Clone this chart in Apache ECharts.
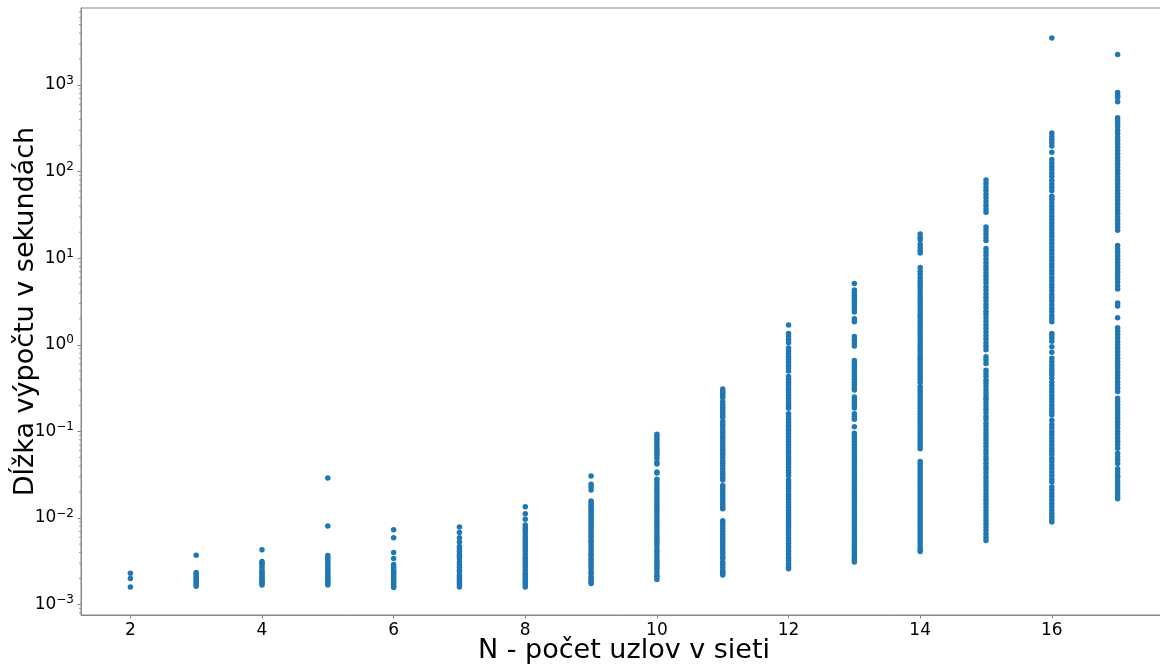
<!DOCTYPE html>
<html>
<head>
<meta charset="utf-8">
<script src="https://cdn.jsdelivr.net/npm/echarts@6/dist/echarts.min.js"></script>
<style>html,body{margin:0;padding:0;background:#fff}#c{width:1160px;height:664px}</style>
</head>
<body>
<div id="c"></div>
<script>
// N values (x categories) and x tick labels
const nValues = [2,3,4,5,6,7,8,9,10,11,12,13,14,15,16,17];
const xTicks = [2,4,6,8,10,12,14,16];
const yDecades = [-3,-2,-1,0,1,2,3];

// computation times (seconds) per N
const t2 = [0.0023,0.0020,0.0016];
const t3 = [0.00372,0.00235,0.00225,0.00215,0.00205,0.00195,0.00187,0.00178,0.0017,0.00163];
const t4 = [0.0043,0.00315,0.003,0.0029,0.00268,0.0025,0.00238,0.00228,0.00218,0.00208,0.00198,0.0019,0.00182,0.00175,0.00168];
const t5 = [0.029,0.0081,0.0037,0.0035,0.0033,0.0031,0.0029,0.0027,0.00255,0.0024,0.00228,0.00216,0.00205,0.00195,0.00186,0.00177,0.00168];
const t6 = [0.0073,0.0059,0.004,0.0034,0.0029,0.0027,0.0025,0.0024,0.0023,0.0022,0.0021,0.002,0.0019,0.0018,0.0017,0.00162,0.00158];
const t7 = [0.0079,0.0068,0.0059,0.0053,0.0047,0.0044,0.0041,0.0038,0.0036,0.0034,0.0031,0.0029,0.0027,0.0025,0.0024,0.0022,0.0021,0.002,0.0019,0.0018,0.0017,0.0016];
const t8 = [0.0135,0.0112,0.0097,0.0083,0.0077,0.0072,0.0067,0.0062,0.0058,0.0054,0.005,0.0047,0.0044,0.0041,0.0038,0.0035,0.0033,0.0031,0.0029,0.0027,0.0025,0.0023,0.0022,0.0021,0.002,0.0019,0.0018,0.0017,0.0016];
const t9 = [0.0305,0.0245,0.0228,0.021,0.0157,0.0148,0.014,0.0132,0.0125,0.0118,0.0112,0.0106,0.0099,0.0093,0.0087,0.0082,0.0077,0.0072,0.0067,0.0063,0.0059,0.0055,0.0052,0.0048,0.0045,0.0042,0.0039,0.0037,0.0034,0.0032,0.003,0.0028,0.0026,0.0024,0.0023,0.0021,0.002,0.0019,0.0018,0.00175];
const t10 = [0.093,0.087,0.081,0.075,0.07,0.065,0.061,0.057,0.053,0.049,0.044,0.042,0.034,0.033,0.028,0.026,0.024,0.022,0.0205,0.019,0.0175,0.0162,0.015,0.014,0.013,0.012,0.0111,0.0103,0.0095,0.0088,0.0082,0.0076,0.007,0.0065,0.006,0.0056,0.0052,0.0048,0.0044,0.0041,0.0038,0.0035,0.0032,0.003,0.0028,0.0026,0.0024,0.0022,0.0021,0.00195];
const t11 = [0.31,0.29,0.275,0.26,0.245,0.22,0.205,0.19,0.178,0.166,0.155,0.145,0.13,0.121,0.113,0.104,0.097,0.09,0.084,0.078,0.072,0.067,0.062,0.058,0.054,0.05,0.046,0.043,0.04,0.037,0.034,0.032,0.0295,0.0275,0.0238,0.0222,0.0206,0.0192,0.0178,0.0166,0.0154,0.0143,0.0133,0.0128,0.0093,0.0087,0.0081,0.0075,0.007,0.0065,0.006,0.0056,0.0052,0.0048,0.0045,0.0042,0.0039,0.0036,0.0034,0.0031,0.0029,0.0027,0.0025,0.0024,0.0023,0.0022];
const t12 = [1.7,1.35,1.25,1.15,1.06,0.92,0.85,0.79,0.73,0.68,0.63,0.58,0.54,0.5,0.43,0.4,0.37,0.345,0.32,0.3,0.28,0.26,0.24,0.225,0.21,0.195,0.185,0.16,0.148,0.137,0.127,0.118,0.11,0.103,0.095,0.088,0.082,0.076,0.07,0.065,0.06,0.056,0.052,0.048,0.045,0.042,0.039,0.036,0.0335,0.031,0.0275,0.0255,0.0237,0.022,0.0205,0.019,0.0177,0.0165,0.0153,0.0142,0.0132,0.0123,0.0114,0.0106,0.0099,0.0092,0.0086,0.008,0.0074,0.0069,0.0064,0.0059,0.0055,0.0051,0.0047,0.0044,0.0041,0.0038,0.0035,0.0033,0.0031,0.0029,0.0027,0.0026];
const t13 = [5.1,4.3,4.0,3.7,3.45,3.2,3.0,2.8,2.6,2.4,2.0,1.85,1.25,1.15,1.05,0.97,0.66,0.61,0.57,0.53,0.49,0.46,0.43,0.4,0.37,0.345,0.32,0.3,0.25,0.23,0.215,0.2,0.187,0.16,0.148,0.138,0.113,0.095,0.088,0.082,0.076,0.07,0.065,0.06,0.056,0.052,0.048,0.045,0.042,0.039,0.036,0.0335,0.031,0.029,0.027,0.025,0.023,0.0215,0.02,0.0186,0.0172,0.016,0.0149,0.0138,0.0128,0.0119,0.0111,0.0103,0.0096,0.0089,0.0083,0.0077,0.0071,0.0066,0.0061,0.0057,0.0053,0.0049,0.0046,0.0043,0.004,0.0037,0.0035,0.0033,0.0031];
const t14 = [19,17.5,16.3,14.5,13.3,12.4,11.5,7.8,7.1,6.5,5.9,5.4,5.0,4.6,4.2,3.9,3.6,3.3,3.05,2.8,2.6,2.4,2.2,2.05,1.9,1.75,1.62,1.5,1.38,1.27,1.17,1.08,1.0,0.93,0.86,0.79,0.73,0.68,0.63,0.58,0.54,0.5,0.46,0.43,0.4,0.37,0.33,0.31,0.29,0.27,0.25,0.23,0.215,0.2,0.185,0.17,0.158,0.146,0.135,0.125,0.116,0.107,0.099,0.092,0.085,0.079,0.073,0.068,0.063,0.045,0.042,0.039,0.036,0.0335,0.031,0.0287,0.0266,0.0247,0.0229,0.0212,0.0197,0.0182,0.0169,0.0157,0.0145,0.0135,0.0125,0.0116,0.0107,0.0099,0.0092,0.0085,0.0079,0.0073,0.0068,0.0063,0.0058,0.0054,0.005,0.0046,0.0043,0.0041];
const t15 = [80,73,66,60,55,50,45,41,37,34,23,21,19.2,17.5,16,13,11.8,10.8,9.8,8.9,8.1,7.4,6.8,6.2,5.7,5.2,4.7,4.3,3.9,3.55,3.25,2.95,2.7,2.45,2.25,2.05,1.87,1.7,1.55,1.41,1.28,1.17,1.05,0.96,0.88,0.73,0.67,0.61,0.51,0.47,0.43,0.39,0.36,0.33,0.3,0.275,0.25,0.235,0.215,0.197,0.18,0.165,0.15,0.138,0.124,0.114,0.104,0.095,0.087,0.08,0.073,0.067,0.061,0.056,0.051,0.047,0.043,0.039,0.036,0.033,0.03,0.0275,0.025,0.023,0.021,0.0192,0.0176,0.016,0.0147,0.0134,0.0123,0.0112,0.0103,0.0094,0.0086,0.0079,0.0072,0.0066,0.006,0.0055];
const t16 = [3500,280,255,235,215,198,167,138,126,115,105,96,88,79,72,66,60,52,48,44,40,36.5,33.5,30.5,28,25.5,23.3,21.3,19.5,17.8,16.2,14.8,13.5,12.4,11.3,10.3,9.4,8.6,7.9,7.2,6.6,6.0,5.5,5.0,4.6,4.2,3.8,3.5,3.2,2.9,2.65,2.42,2.2,2.02,1.85,1.35,1.27,1.2,1.1,0.95,0.82,0.7,0.64,0.58,0.53,0.49,0.45,0.41,0.37,0.34,0.31,0.285,0.26,0.24,0.22,0.2,0.183,0.168,0.155,0.135,0.12,0.11,0.1,0.092,0.084,0.077,0.07,0.064,0.059,0.054,0.049,0.045,0.041,0.0375,0.034,0.031,0.028,0.026,0.0228,0.021,0.0193,0.0177,0.0162,0.0148,0.0136,0.0124,0.0113,0.0104,0.0096,0.009];
const t17 = [2250,820,760,720,640,420,390,360,330,300,275,250,230,210,192,176,161,147,135,124,113,104,95,87,80,73,67,61,56,51,47,43,39,36,33,30,27.5,25,23,21,14,12.8,11.7,10.7,9.8,9.0,8.2,7.5,6.9,6.3,5.8,5.3,4.8,4.4,3.05,2.8,2.05,1.57,1.44,1.32,1.21,1.1,1.0,0.92,0.84,0.77,0.7,0.64,0.59,0.54,0.49,0.45,0.41,0.375,0.345,0.315,0.29,0.242,0.222,0.203,0.186,0.17,0.156,0.143,0.131,0.12,0.11,0.1,0.092,0.084,0.077,0.07,0.064,0.056,0.051,0.047,0.0425,0.037,0.034,0.031,0.0295,0.0272,0.025,0.023,0.0212,0.0195,0.018,0.0167];

const times = [t2,t3,t4,t5,t6,t7,t8,t9,t10,t11,t12,t13,t14,t15,t16,t17];

const FONT = 'DejaVu Sans';
const X_MIN = 1.25, X_MAX = 17.75;
const Y_MIN = Math.pow(10, -3.12), Y_MAX = Math.pow(10, 3.89);
const AX = '#888888';

const points = [];
nValues.forEach((n, i) => times[i].forEach(v => points.push([n, v])));

// minor log ticks (2..9 per decade), axis decoration
const minor = [];
for (let d = -4; d <= 3; d++) for (let k = 2; k <= 9; k++) {
  const v = k * Math.pow(10, d);
  if (v > Y_MIN && v < Y_MAX) minor.push([X_MIN, v]);
}

const chart = echarts.init(document.getElementById('c'), null, {renderer: 'canvas'});
chart.setOption({
  animation: false,
  backgroundColor: '#ffffff',
  grid: {left: 81, top: 8, width: 1086, height: 607, show: true, borderColor: AX, borderWidth: 1,
         containLabel: false, outerBoundsMode: 'none'},
  xAxis: {
    type: 'value', min: X_MIN, max: X_MAX,
    name: 'N - počet uzlov v sieti', nameLocation: 'middle', nameGap: 22, nameMoveOverlap: false,
    nameTextStyle: {fontFamily: FONT, fontSize: 27, color: '#000'},
    axisLine: {show: true, lineStyle: {color: AX, width: 1}},
    axisTick: {show: true, length: 3.5, customValues: xTicks, lineStyle: {color: AX}},
    axisLabel: {customValues: xTicks, margin: 7, fontFamily: FONT, fontSize: 17, color: '#000'},
    splitLine: {show: false}
  },
  yAxis: {
    type: 'log', logBase: 10, min: Y_MIN, max: Y_MAX,
    name: 'Dĺžka výpočtu v sekundách', nameLocation: 'middle', nameGap: 42, nameMoveOverlap: false,
    nameTextStyle: {fontFamily: FONT, fontSize: 27, color: '#000'},
    axisLine: {show: true, lineStyle: {color: AX, width: 1}},
    axisTick: {show: true, length: 3.5, lineStyle: {color: AX}},
    axisLabel: {
      margin: 7, showMinLabel: false, showMaxLabel: false,
      formatter: function (v) {
        const e = Math.round(Math.log10(v));
        if (yDecades.indexOf(e) < 0) return '';
        return '{b|10}{s|' + (e < 0 ? '\u2212' + (-e) : String(e)) + '}';
      },
      rich: {
        b: {fontFamily: FONT, fontSize: 17, color: '#000'},
        s: {fontFamily: FONT, fontSize: 12, color: '#000', padding: [0, 0, 9, 0]}
      }
    },
    splitLine: {show: false}
  },
  series: [
    {
      type: 'scatter', data: points, symbol: 'circle', symbolSize: 5.5,
      itemStyle: {color: '#1f77b4', opacity: 1}, silent: true
    },
    {
      type: 'custom', data: minor, silent: true, clip: false, z: 1,
      renderItem: function (params, api) {
        const p = api.coord([api.value(0), api.value(1)]);
        return {type: 'line', shape: {x1: p[0] - 2, y1: p[1], x2: p[0], y2: p[1]}, style: {stroke: AX, lineWidth: 0.8}};
      }
    }
  ]
});
</script>
</body>
</html>
